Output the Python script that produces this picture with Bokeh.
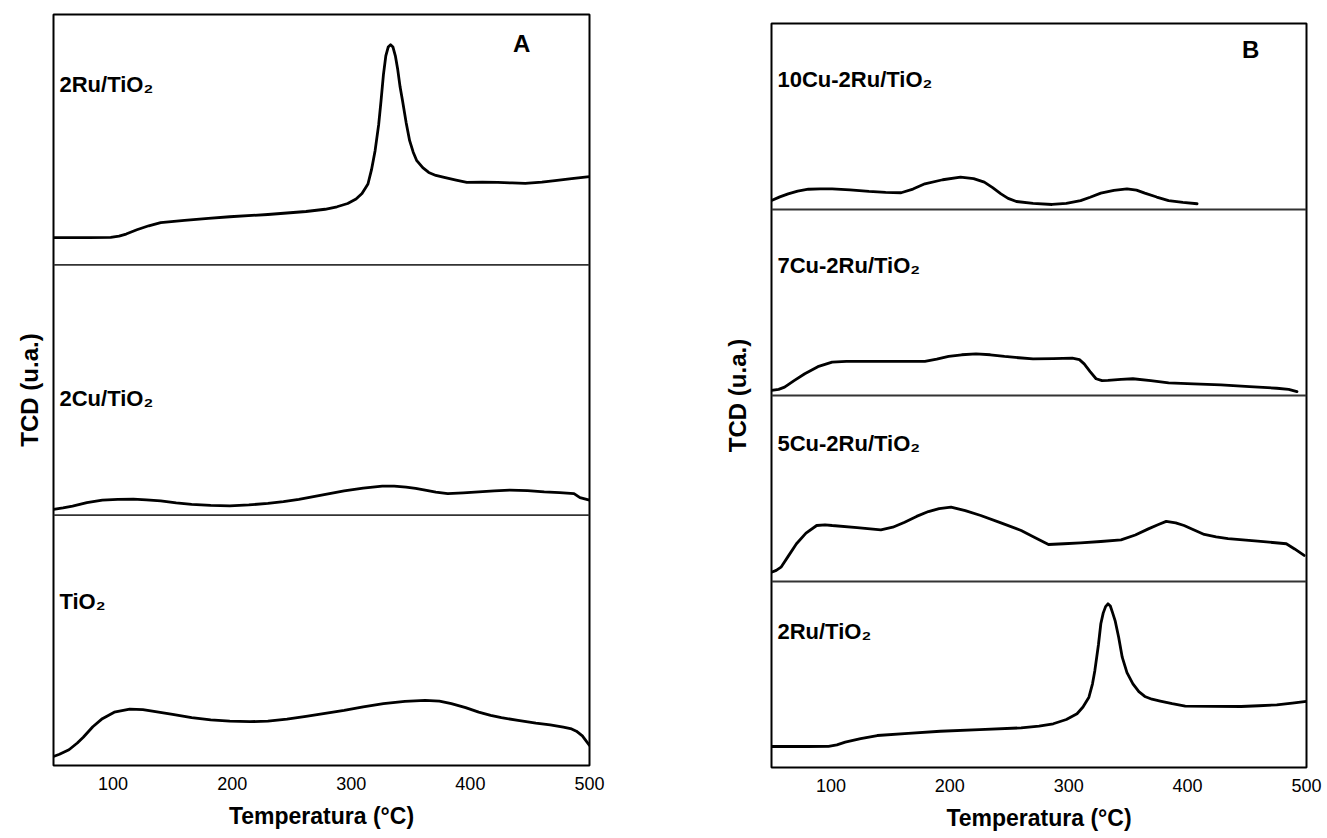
from bokeh.plotting import figure
from bokeh.layouts import row, column
from bokeh.models import Range1d, Span, FixedTicker, ColumnDataSource, Spacer
from bokeh.core.properties import value
from bokeh.embed import file_html
from bokeh.resources import INLINE

FONT = "Liberation Sans"

# ---------------- data (temperature in °C, signal in sub-panel units) ----------------
ticks = [100, 200, 300, 400, 500]

a_2ru_t = [50, 80, 98, 105, 111, 120, 130, 140, 160, 180, 198, 230, 262, 278, 288, 297, 304, 309, 314, 317, 320, 323, 325,
           327, 329, 331, 333, 335, 337, 339, 341, 343, 346, 349, 352, 355, 360, 365, 371, 378, 388, 397, 410, 423, 435,
           446, 460, 471, 485, 500]
a_2ru_y = [.109, .109, .110, .115, .123, .140, .156, .169, .178, .186, .192, .201, .213, .222, .232, .245, .263, .285, .323,
           .380, .456, .560, .656, .760, .835, .870, .879, .870, .835, .780, .710, .656, .570, .496, .450, .416, .388, .369,
           .357, .349, .338, .329, .330, .329, .327, .325, .330, .336, .344, .352]

a_2cu_t = [50, 58, 66, 78, 91, 104, 117, 128, 140, 153, 166, 182, 198, 214, 230, 243, 256, 275, 294, 310, 326, 336, 346,
           354, 362, 371, 381, 394, 407, 420, 433, 448, 462, 475, 487, 492, 500]
a_2cu_y = [.023, .029, .036, .050, .060, .063, .064, .061, .057, .049, .043, .039, .037, .041, .047, .054, .063, .080, .097,
           .108, .116, .116, .112, .107, .100, .092, .086, .089, .093, .097, .100, .098, .093, .090, .086, .070, .060]

a_tio2_t = [50, 55, 63, 70, 75, 83, 91, 101, 114, 125, 133, 150, 166, 182, 198, 215, 230, 246, 262, 278, 294, 310, 327,
            345, 362, 374, 384, 396, 407, 417, 426, 440, 455, 467, 478, 485, 489, 494, 500]
a_tio2_y = [.036, .045, .063, .090, .113, .155, .187, .213, .225, .223, .217, .204, .191, .182, .177, .175, .177, .185, .196,
            .208, .220, .234, .247, .256, .260, .257, .247, .231, .213, .200, .191, .180, .169, .162, .153, .146, .137, .118,
            .080]

b_10cu_t = [50, 57, 64, 72, 81, 91, 101, 116, 132, 146, 159, 169, 179, 194, 209, 220, 229, 236, 243, 249, 256, 270, 286,
            298, 310, 318, 327, 338, 349, 357, 364, 374, 384, 396, 408]
b_10cu_y = [.048, .068, .084, .099, .109, .111, .111, .105, .097, .092, .090, .110, .138, .160, .174, .166, .147, .118, .084,
            .060, .043, .033, .027, .033, .048, .066, .088, .103, .111, .104, .088, .067, .048, .038, .031]

b_7cu_t = [50, 56, 61, 69, 78, 89, 101, 113, 125, 152, 179, 189, 199, 210, 222, 234, 246, 258, 270, 287, 303, 309, 313,
           318, 323, 328, 333, 344, 354, 369, 384, 405, 428, 452, 475, 485, 492]
b_7cu_y = [.027, .033, .045, .080, .117, .155, .179, .183, .183, .183, .183, .195, .210, .219, .224, .219, .210, .203, .197,
           .198, .201, .193, .170, .128, .090, .080, .081, .087, .090, .080, .068, .062, .057, .048, .039, .033, .021]

b_5cu_t = [50, 54, 58, 64, 71, 79, 88, 95, 101, 122, 142, 152, 162, 172, 182, 191, 201, 213, 226, 243, 260, 271, 283,
           296, 310, 327, 344, 356, 367, 375, 382, 390, 397, 405, 414, 424, 434, 459, 483, 490, 498]
b_5cu_y = [.050, .060, .077, .135, .203, .260, .301, .305, .301, .290, .278, .292, .319, .350, .376, .392, .400, .381, .355,
           .315, .274, .238, .199, .203, .208, .215, .224, .250, .283, .305, .323, .315, .301, .278, .253, .240, .230, .217,
           .203, .175, .140]

b_2ru_t = [50, 80, 98, 105, 112, 125, 139, 165, 192, 225, 260, 275, 287, 298, 307, 312, 317, 320, 322, 325, 327, 329, 331,
           333, 335, 337, 339, 342, 345, 349, 354, 359, 364, 370, 377, 387, 398, 420, 445, 460, 475, 488, 500]
b_2ru_y = [.113, .113, .114, .122, .136, .155, .172, .184, .195, .204, .213, .222, .235, .258, .289, .325, .378, .450, .522,
           .660, .773, .830, .865, .880, .868, .830, .790, .700, .593, .510, .450, .408, .382, .367, .357, .343, .330, .329,
           .328, .332, .337, .346, .355]

a_labels = ["2Ru/TiO\u2082", "2Cu/TiO\u2082", "TiO\u2082"]
b_labels = ["10Cu-2Ru/TiO\u2082", "7Cu-2Ru/TiO\u2082", "5Cu-2Ru/TiO\u2082", "2Ru/TiO\u2082"]


# ---------------- helpers ----------------
def make_fig(width, height, n, bl, br, bt, bb, ylab_standoff):
    p = figure(width=width, height=height, x_range=Range1d(50, 500), y_range=Range1d(0, n),
               output_backend="svg", toolbar_location=None,
               min_border_left=bl, min_border_right=br, min_border_top=bt, min_border_bottom=bb)
    p.xgrid.visible = False
    p.ygrid.visible = False
    p.outline_line_color = "black"
    p.outline_line_width = 2
    p.background_fill_color = "white"
    p.border_fill_color = "white"
    p.xaxis.ticker = FixedTicker(ticks=ticks)
    p.yaxis.ticker = FixedTicker(ticks=[])
    for ax in (p.xaxis, p.yaxis):
        ax.axis_line_color = None
        ax.major_tick_line_color = None
        ax.minor_tick_line_color = None
        ax.major_tick_out = 0
        ax.major_tick_in = 0
        ax.minor_tick_out = 0
        ax.minor_tick_in = 0
        ax.axis_label_text_font = FONT
        ax.axis_label_text_font_style = "bold"
        ax.axis_label_text_color = "black"
    p.xaxis.axis_label_text_font_size = "23px"
    p.yaxis.axis_label_text_font_size = "24px"
    p.xaxis.major_label_text_font = FONT
    p.xaxis.major_label_text_font_size = "18px"
    p.xaxis.major_label_text_color = "black"
    p.xaxis.major_label_standoff = 11
    p.xaxis.axis_label = "Temperatura (°C)"
    p.xaxis.axis_label_standoff = 10
    p.yaxis.axis_label = "TCD (u.a.)"
    p.yaxis.axis_label_standoff = ylab_standoff
    for k in range(1, n):
        p.add_layout(Span(location=k, dimension="width", line_color="#333333", line_width=1.8))
    return p


def add_curve(p, t, y, offset):
    p.line(t, [v + offset for v in y], line_color="black", line_width=2.8,
           line_join="round", line_cap="round")


def add_labels(p, xs, ys, texts, size):
    src = ColumnDataSource(dict(x=xs, y=ys, text=texts))
    p.text(x="x", y="y", text="text", source=src, text_font=value(FONT),
           text_font_style="bold", text_font_size=size, text_color="black",
           text_align="left", text_baseline="middle")


def add_letter(p, x, y, letter):
    p.text(x=[x], y=[y], text=[letter], text_font=value(FONT), text_font_style="bold",
           text_font_size="24px", text_align="center", text_baseline="middle", text_color="black")


# ---------------- panel A ----------------
pA = make_fig(680, 838, 3, 53, 91, 14, 73, 11)
add_curve(pA, a_2ru_t, a_2ru_y, 2)
add_curve(pA, a_2cu_t, a_2cu_y, 1)
add_curve(pA, a_tio2_t, a_tio2_y, 0)
add_labels(pA, [55, 55, 55], [2.72, 1.465, 0.655], a_labels, "22px")
add_letter(pA, 443, 2.884, "A")

# ---------------- panel B ----------------
pB = make_fig(645, 829, 4, 91, 19, 14, 71, 21)
add_curve(pB, b_10cu_t, b_10cu_y, 3)
add_curve(pB, b_7cu_t, b_7cu_y, 2)
add_curve(pB, b_5cu_t, b_5cu_y, 1)
add_curve(pB, b_2ru_t, b_2ru_y, 0)
add_labels(pB, [55, 55, 55, 55], [3.70, 2.70, 1.74, 0.73], b_labels, "22px")
add_letter(pB, 453, 3.86, "B")

layout = row(pA, column(Spacer(width=645, height=9), pB))
open("out.html", "w").write(file_html(layout, INLINE))
